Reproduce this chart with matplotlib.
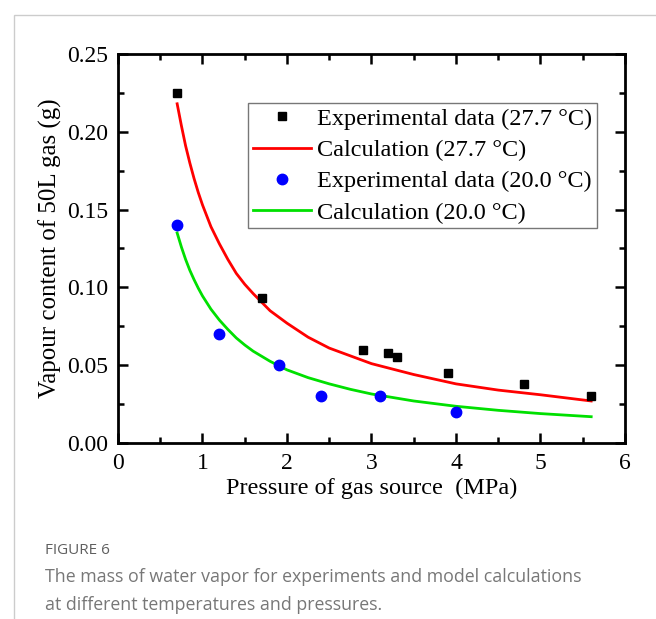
import numpy as np
import matplotlib
matplotlib.use('Agg')
from matplotlib import pyplot as plt
from matplotlib.patches import Rectangle

# experimental data
p_277 = [0.7, 1.7, 2.9, 3.2, 3.3, 3.9, 4.8, 5.6]
m_277 = [0.225, 0.093, 0.060, 0.058, 0.055, 0.045, 0.038, 0.030]
p_200 = [0.7, 1.2, 1.9, 2.4, 3.1, 4.0]
m_200 = [0.140, 0.070, 0.050, 0.030, 0.030, 0.020]

# calculation curves
p_calc = [0.70, 0.75, 0.80, 0.85, 0.90, 0.95, 1.00, 1.10, 1.20, 1.30, 1.40, 1.50, 1.60,
          1.80, 2.00, 2.25, 2.50, 2.75, 3.00, 3.50, 4.00, 4.50, 5.00, 5.60]
calc_277 = [0.218, 0.204, 0.191, 0.180, 0.170, 0.161, 0.153, 0.139, 0.128, 0.118, 0.109,
            0.102, 0.096, 0.085, 0.077, 0.068, 0.061, 0.056, 0.051, 0.044, 0.038,
            0.034, 0.031, 0.027]
calc_200 = [0.135, 0.126, 0.118, 0.111, 0.105, 0.0995, 0.0945, 0.086, 0.079, 0.073, 0.0675,
            0.063, 0.059, 0.0525, 0.047, 0.042, 0.038, 0.0345, 0.0315, 0.027, 0.0236,
            0.021, 0.0189, 0.0169]

xticks = [0, 1, 2, 3, 4, 5, 6]
yticks = [0.00, 0.05, 0.10, 0.15, 0.20, 0.25]

plt.rcParams['font.family'] = ['Liberation Serif', 'DejaVu Serif']

fig = plt.figure(figsize=(6.56, 6.19), dpi=100)
fig.patches.append(Rectangle((14/656, -0.1), 2, 1 - 15/619 + 0.1, transform=fig.transFigure,
                             fill=False, edgecolor='#cccccc', linewidth=1))

ax = fig.add_axes([118/656, 1 - 443/619, 507/656, 389/619])
ax.plot(p_277, m_277, 's', color='black', markersize=6, label='Experimental data (27.7 \u00b0C)', zorder=3)
ax.plot(p_calc, calc_277, '-', color='#ff0000', linewidth=2, label='Calculation (27.7 \u00b0C)')
ax.plot(p_200, m_200, 'o', color='#0000ff', markersize=7.5, label='Experimental data (20.0 \u00b0C)', zorder=3)
ax.plot(p_calc, calc_200, '-', color='#00e000', linewidth=2, label='Calculation (20.0 \u00b0C)')

ax.set_xlim(0, 6)
ax.set_ylim(0, 0.25)
ax.set_xticks(xticks)
ax.set_yticks(yticks)
ax.set_xticklabels([str(t) for t in xticks])
ax.set_yticklabels(['%.2f' % t for t in yticks])
ax.set_xticks(np.arange(0.5, 6, 1.0), minor=True)
ax.set_yticks(np.arange(0.025, 0.25, 0.05), minor=True)
ax.tick_params(which='both', direction='in', top=True, right=True, labelsize=17, width=1.8)
ax.tick_params(which='major', length=7, pad=7)
ax.tick_params(which='minor', length=4)
for s in ax.spines.values():
    s.set_linewidth(2)

ax.set_xlabel('Pressure of gas source  (MPa)', fontsize=17.5, labelpad=3)
ax.set_ylabel('Vapour content of 50L gas (g)', fontsize=18, labelpad=4)

leg = ax.legend(loc='upper left', bbox_to_anchor=(130/507, 1 - 49/389), fontsize=17.5,
                frameon=True, fancybox=False, edgecolor='#555555', borderpad=0.2,
                labelspacing=0.38, handlelength=2.4, handletextpad=0.25, borderaxespad=0)
leg.get_frame().set_linewidth(1)

fig.text(45/656, 1 - 551/619, 'FIGURE 6', fontsize=11, color='#5f5f5f',
         family=['Open Sans', 'DejaVu Sans'], va='center')
fig.text(45/656, 1 - 577/619, 'The mass of water vapor for experiments and model calculations',
         fontsize=12.8, color='#777777', family=['Open Sans', 'DejaVu Sans'], va='center')
fig.text(45/656, 1 - 605/619, 'at different temperatures and pressures.',
         fontsize=12.8, color='#777777', family=['Open Sans', 'DejaVu Sans'], va='center')

fig.savefig('out.png', dpi=100)
